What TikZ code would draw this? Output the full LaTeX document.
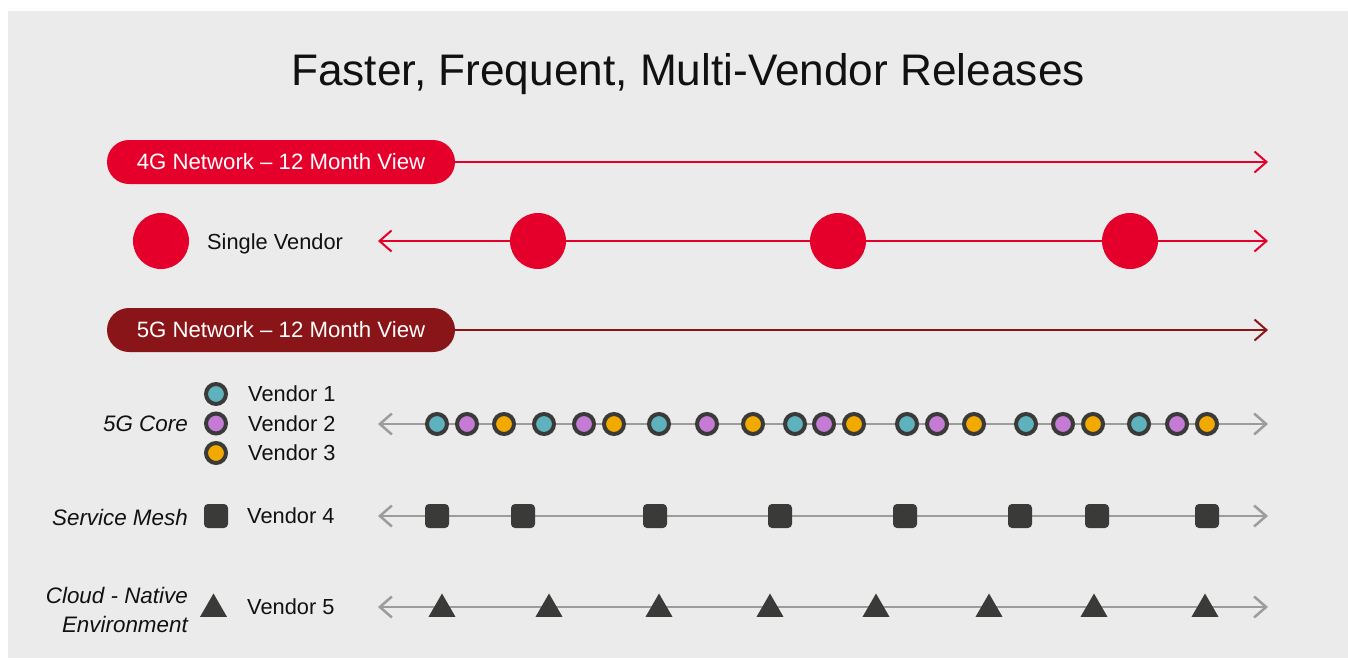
\documentclass[tikz,border=0pt]{standalone}
\usepackage{fontspec}
\setmainfont{Liberation Sans}
\usetikzlibrary{arrows.meta,shapes.geometric}
\definecolor{bg}{HTML}{EBEBEB}
\definecolor{redA}{HTML}{E4002B}
\definecolor{redB}{HTML}{8A1518}
\definecolor{greyline}{HTML}{9C9C9C}
\definecolor{darkmark}{HTML}{3A3B38}
\definecolor{vone}{HTML}{5EB2BD}
\definecolor{vtwo}{HTML}{C57BD5}
\definecolor{vthree}{HTML}{F3AA00}
\definecolor{ink}{HTML}{111111}
\begin{document}
\begin{tikzpicture}[x=1pt,y=-1pt,
  >={Straight Barb[length=12pt,width=21pt]},
  pill/.style={rounded corners=22pt, minimum width=348pt, minimum height=44pt, inner sep=0pt, text=white,
    font=\fontsize{22.2}{26}\selectfont},
  lbl/.style={inner sep=0pt, anchor=base west, text=ink, font=\fontsize{21.8}{28.4}\selectfont},
  ital/.style={inner sep=0pt, anchor=base east, align=right, text=ink, font=\fontsize{22.4}{28.6}\selectfont\itshape},
  redline/.style={draw=redA, line width=2pt},
  darkredline/.style={draw=redB, line width=2pt},
  greyaxis/.style={draw=greyline, line width=2.5pt},
  bigdot/.style={circle, fill=redA, minimum size=56pt, inner sep=0pt},
  vdot/.style={circle, draw=darkmark, line width=4pt, fill=#1, minimum size=20pt, inner sep=0pt},
  sq/.style={rectangle, rounded corners=4pt, fill=darkmark, minimum size=24pt, inner sep=0pt},
  tri/.style={regular polygon, regular polygon sides=3, fill=darkmark, minimum size=31pt, inner sep=0pt}
]
\useasboundingbox (0,0) rectangle (1348,659);
\fill[white] (0,0) rectangle (1348,659);
\fill[bg] (8,11) rectangle (1348,658);

% title
\node[inner sep=0pt, anchor=base, text=ink, font=\fontsize{44.2}{50}\selectfont] (title) at (688,85) {Faster, Frequent, Multi-Vendor Releases};

% 4G
\node[pill, fill=redA] (p4) at (281,162) {4G Network – 12 Month View};
\coordinate (e4) at (1268,162);
\draw[redline, ->] (p4.east) -- (e4);

\node[bigdot] (legsingle) at (161,241) {};
\node[lbl] (tsingle) at (207,249) {Single Vendor};
\coordinate (s2l) at (378,241);
\coordinate (s2r) at (1268,241);
\draw[redline, <->] (s2l) -- (s2r);
\node[bigdot] (r1) at (538,241) {};
\node[bigdot] (r2) at (838,241) {};
\node[bigdot] (r3) at (1130,241) {};

% 5G
\node[pill, fill=redB] (p5) at (281,330) {5G Network – 12 Month View};
\coordinate (e5) at (1268,330);
\draw[darkredline, ->] (p5.east) -- (e5);

% 5G Core
\node[ital] (lcore) at (188,431.7) {5G Core};
\node[vdot=vone] (lv1) at (216,394) {};
\node[vdot=vtwo] (lv2) at (216,423.5) {};
\node[vdot=vthree] (lv3) at (216,453) {};
\node[lbl] (tv1) at (248,401.6) {Vendor 1};
\node[lbl] (tv2) at (248,431.2) {Vendor 2};
\node[lbl] (tv3) at (248,460.8) {Vendor 3};
\coordinate (c3l) at (378,424);
\coordinate (c3r) at (1268,424);
\draw[greyaxis, <->] (c3l) -- (c3r);
\foreach \x/\c [count=\i] in {437/vone,467/vtwo,504/vthree,544/vone,584/vtwo,614/vthree,659/vone,707/vtwo,753/vthree,795/vone,824/vtwo,854/vthree,907/vone,937/vtwo,974/vthree,1026/vone,1063/vtwo,1093/vthree,1139/vone,1177/vtwo,1207/vthree}
  \node[vdot=\c] (cd\i) at (\x,424) {};

% Service mesh
\node[ital] (lmesh) at (188,525) {Service Mesh};
\node[sq] (lsq) at (216,516) {};
\node[lbl] (tv4) at (247,523.3) {Vendor 4};
\coordinate (c4l) at (378,516);
\coordinate (c4r) at (1268,516);
\draw[greyaxis, <->] (c4l) -- (c4r);
\foreach \x [count=\i] in {437,523,655,780,905,1020,1097,1207}
  \node[sq] (sm\i) at (\x,516) {};

% Cloud native
\node[ital, anchor=east] (lcloud) at (188,610) {Cloud - Native\\Environment};
\node[tri] (ltri) at (213.5,609) {};
\node[lbl] (tv5) at (247,614) {Vendor 5};
\coordinate (c5l) at (378,607);
\coordinate (c5r) at (1268,607);
\draw[greyaxis, <->] (c5l) -- (c5r);
\foreach \x [count=\i] in {442,549,659,770,876,989,1094,1205}
  \node[tri] (cn\i) at (\x,609) {};
\end{tikzpicture}
\end{document}
